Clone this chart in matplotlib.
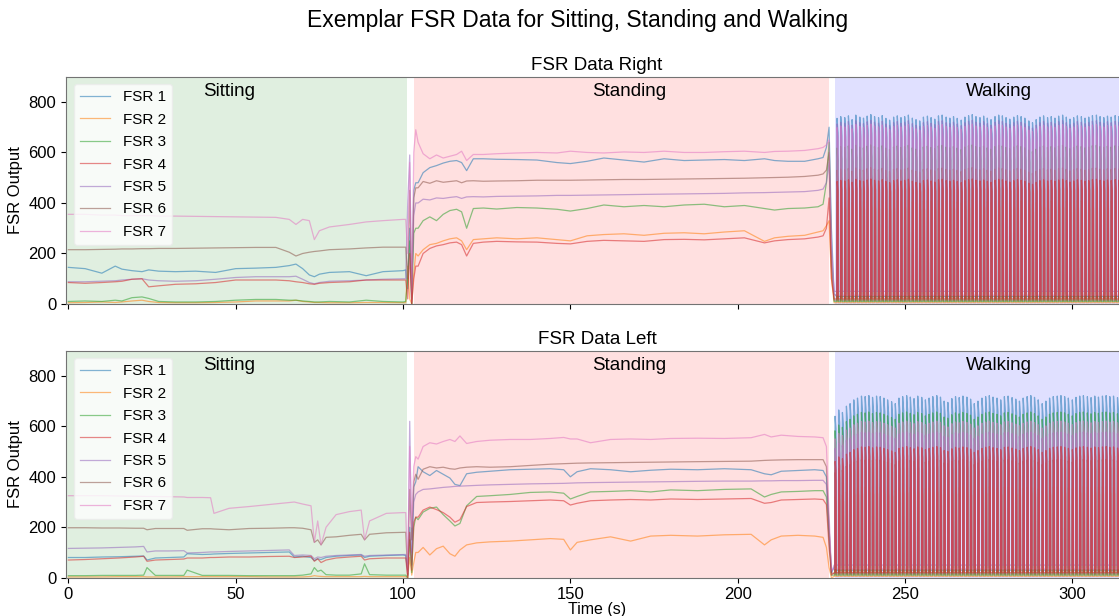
import matplotlib.pyplot as plt

plt.rcParams['font.family'] = ['Liberation Sans', 'DejaVu Sans']

labels = ['FSR 1', 'FSR 2', 'FSR 3', 'FSR 4', 'FSR 5', 'FSR 6', 'FSR 7']

# ---------------- right foot ----------------
t_sit_r = [0, 5, 10, 14, 16, 19, 22, 24, 27, 32, 38, 44, 50, 56, 62, 66, 68, 70, 72, 73.5,
           75, 78, 84, 89, 94, 100]
sit_r = [
    [145, 140, 122, 150, 138, 132, 128, 135, 130, 128, 130, 125, 140, 142, 145, 152, 158, 140, 115, 108, 118, 125, 128, 112, 128, 132],
    [5, 6, 8, 6, 8, 12, 15, 10, 6, 5, 5, 6, 8, 12, 12, 12, 15, 10, 8, 6, 6, 5, 5, 6, 6, 5],
    [10, 12, 10, 15, 12, 25, 28, 22, 10, 8, 8, 10, 15, 18, 18, 15, 15, 12, 10, 8, 8, 10, 8, 15, 10, 8],
    [85, 82, 85, 88, 90, 98, 100, 68, 72, 78, 80, 85, 95, 95, 95, 92, 88, 85, 80, 78, 82, 85, 88, 95, 95, 95],
    [88, 88, 90, 92, 95, 98, 100, 95, 92, 90, 92, 98, 105, 108, 108, 108, 110, 98, 85, 80, 85, 90, 92, 95, 98, 100],
    [215, 215, 216, 217, 218, 218, 219, 219, 220, 220, 221, 222, 223, 224, 224, 205, 190, 200, 205, 208, 210, 215, 218, 222, 225, 225],
    [355, 355, 352, 352, 350, 350, 350, 350, 348, 348, 347, 346, 345, 344, 343, 335, 315, 335, 330, 255, 290, 305, 315, 325, 330, 335],
]
t_tr1 = [100.8, 101.4, 102.0, 102.6, 103.2, 103.8]
tr1_r = [
    [135, 60, 300, 20, 450, 480],
    [5, 150, 20, 0, 120, 200],
    [10, 100, 250, 0, 280, 300],
    [95, 20, 200, 0, 100, 150],
    [100, 400, 590, 50, 350, 400],
    [225, 100, 450, 0, 420, 460],
    [335, 200, 560, 10, 600, 690],
]
t_std_r = [104.5, 106, 108, 110, 112, 114, 116, 117.5, 119, 121, 124, 128, 134, 140, 146, 150,
           155, 160, 166, 172, 178, 184, 190, 196, 202, 208, 211, 215, 220, 224]
std_r = [
    [480, 520, 540, 548, 558, 565, 568, 560, 528, 575, 575, 573, 572, 570, 560, 556, 565, 578, 570, 562, 575, 568, 570, 572, 568, 575, 568, 565, 565, 575],
    [190, 215, 235, 240, 250, 258, 262, 250, 215, 255, 258, 262, 258, 262, 255, 250, 270, 275, 278, 272, 280, 282, 278, 285, 290, 248, 262, 268, 272, 285],
    [300, 330, 345, 330, 355, 370, 375, 365, 300, 378, 380, 376, 382, 380, 375, 368, 378, 392, 385, 390, 385, 392, 395, 385, 390, 378, 372, 378, 380, 385],
    [150, 200, 220, 230, 235, 242, 245, 235, 190, 240, 245, 248, 246, 245, 240, 238, 248, 252, 250, 248, 255, 256, 254, 258, 262, 242, 250, 255, 258, 265],
    [400, 415, 412, 420, 418, 422, 425, 418, 424, 425, 424, 426, 427, 428, 430, 430, 431, 432, 433, 434, 435, 436, 437, 438, 440, 441, 442, 443, 445, 450],
    [460, 485, 478, 488, 482, 485, 488, 480, 487, 488, 486, 487, 488, 490, 490, 490, 491, 492, 493, 493, 494, 495, 496, 497, 498, 500, 501, 502, 505, 510],
    [640, 595, 575, 590, 578, 585, 592, 605, 568, 592, 592, 595, 598, 600, 598, 605, 600, 598, 602, 600, 605, 600, 600, 603, 605, 600, 604, 605, 608, 615],
]
t_tr2 = [225.5, 226.5, 227.3, 228.0, 228.8]
tr2_r = [
    [580, 620, 700, 300, 40],
    [290, 310, 330, 100, 5],
    [395, 480, 640, 200, 10],
    [270, 300, 420, 100, 20],
    [455, 480, 560, 200, 50],
    [515, 530, 600, 150, 15],
    [620, 630, 650, 250, 35],
]
steps_r = [229.6, 230.7, 231.9, 233.0, 234.1, 235.2, 236.4, 237.5, 238.6, 239.7,
           240.8, 242.0, 243.1, 244.2, 245.3, 246.5, 247.6, 248.7, 249.8, 250.9,
           252.1, 253.2, 254.3, 255.4, 256.6, 257.7, 258.8, 259.9, 261.0, 262.2,
           263.3, 264.4, 265.5, 266.7, 267.8, 268.9, 270.0, 271.1, 272.3, 273.4,
           274.5, 275.6, 276.8, 277.9, 279.0, 280.1, 281.2, 282.4, 283.5, 284.6,
           285.7, 286.9, 288.0, 289.1, 290.2, 291.3, 292.5, 293.6, 294.7, 295.8,
           297.0, 298.1, 299.2, 300.3, 301.4, 302.6, 303.7, 304.8, 305.9, 307.1,
           308.2, 309.3, 310.4, 311.5, 312.7, 313.8, 314.9, 316.0]
peaks_r = [735, 742, 738, 745, 730, 748, 740, 736, 744, 750,
           742, 738, 746, 735, 728, 740, 745, 738, 742, 748,
           736, 730, 725, 740, 744, 738, 732, 745, 748, 740,
           736, 742, 735, 728, 740, 746, 750, 742, 738, 744,
           736, 730, 742, 748, 745, 738, 732, 740, 746, 742,
           736, 725, 718, 730, 740, 745, 738, 742, 736, 744,
           748, 740, 732, 738, 745, 742, 736, 740, 746, 748,
           742, 738, 744, 740, 746, 742, 738, 740]
ratio_r = [1.0, 0.55, 0.84, 0.66, 0.97, 0.72, 0.95]

# ---------------- left foot ----------------
t_sit_l = [0, 5, 10, 15, 20, 22.5, 23.5, 26, 30, 34.5, 35.5, 40, 42.5, 43.5, 48, 54, 60, 66,
           67.5, 70, 72.5, 73.5, 74.5, 75.5, 77, 80, 84, 87.5, 88.5, 90, 95, 100]
sit_l = [
    [80, 80, 82, 83, 85, 86, 70, 78, 80, 82, 95, 92, 93, 94, 96, 98, 100, 102, 82, 85, 80, 68, 75, 72, 80, 85, 88, 90, 80, 85, 88, 90],
    [3, 3, 3, 4, 4, 4, 3, 3, 3, 4, 4, 4, 4, 4, 4, 4, 3, 3, 3, 3, 5, 8, 6, 5, 4, 4, 4, 4, 5, 4, 4, 4],
    [8, 8, 9, 9, 9, 10, 40, 9, 9, 9, 30, 9, 9, 9, 9, 8, 8, 8, 8, 10, 15, 40, 25, 30, 12, 10, 10, 15, 55, 12, 10, 10],
    [70, 72, 75, 78, 82, 85, 65, 70, 72, 74, 78, 78, 80, 80, 82, 82, 84, 85, 80, 82, 85, 65, 75, 60, 70, 78, 82, 85, 70, 75, 78, 78],
    [116, 117, 118, 120, 122, 124, 102, 106, 106, 107, 98, 100, 102, 102, 104, 106, 108, 110, 88, 90, 88, 75, 82, 80, 85, 88, 90, 92, 85, 88, 90, 92],
    [198, 198, 197, 197, 196, 196, 190, 195, 195, 195, 188, 194, 194, 193, 190, 195, 196, 198, 198, 196, 190, 140, 150, 130, 160, 162, 168, 172, 150, 172, 178, 180],
    [325, 325, 325, 324, 323, 322, 322, 322, 321, 320, 318, 318, 317, 255, 275, 282, 290, 298, 300, 292, 285, 140, 225, 130, 200, 250, 262, 268, 150, 225, 255, 258],
]
tr1_l = [
    [88, 30, 200, 50, 360, 380],
    [4, 0, 80, 10, 60, 100],
    [10, 0, 150, 20, 200, 240],
    [78, 0, 180, 30, 220, 240],
    [92, 10, 620, 100, 300, 330],
    [180, 10, 350, 150, 380, 410],
    [258, 20, 520, 200, 440, 480],
]
t_std_l = [104.5, 106, 108, 110, 112, 114, 115.5, 117, 119, 122, 126, 132, 138, 144, 148, 150,
           152, 156, 162, 168, 174, 180, 188, 196, 204, 208, 210, 213, 218, 223]
std_l = [
    [440, 420, 405, 425, 410, 395, 370, 365, 412, 418, 422, 428, 430, 432, 428, 400, 420, 432, 428, 420, 426, 430, 428, 432, 428, 412, 408, 422, 425, 428],
    [100, 120, 90, 115, 125, 95, 85, 110, 130, 138, 142, 145, 150, 155, 152, 110, 140, 150, 162, 145, 165, 168, 165, 170, 172, 130, 150, 165, 168, 165],
    [230, 260, 275, 280, 250, 225, 205, 215, 285, 322, 325, 330, 338, 340, 335, 312, 322, 340, 342, 345, 340, 348, 345, 350, 352, 320, 330, 340, 342, 345],
    [240, 268, 280, 270, 258, 240, 220, 230, 282, 298, 300, 302, 305, 308, 305, 288, 295, 305, 308, 310, 308, 312, 310, 312, 314, 295, 298, 308, 310, 312],
    [340, 350, 352, 355, 358, 360, 362, 363, 364, 366, 368, 370, 372, 373, 374, 375, 376, 377, 378, 379, 380, 381, 382, 383, 383, 384, 384, 385, 385, 386],
    [390, 430, 440, 435, 438, 432, 430, 435, 438, 440, 438, 440, 445, 450, 452, 453, 454, 455, 456, 457, 458, 459, 460, 461, 462, 465, 466, 467, 468, 468],
    [470, 520, 535, 530, 540, 548, 540, 562, 532, 540, 545, 548, 548, 552, 556, 550, 550, 535, 548, 550, 548, 552, 553, 552, 555, 568, 558, 565, 560, 558],
]
tr2_l = [
    [425, 400, 200, 20, 40],
    [160, 120, 40, 0, 5],
    [345, 320, 150, 10, 10],
    [310, 290, 120, 10, 20],
    [386, 370, 180, 20, 50],
    [468, 440, 200, 20, 15],
    [555, 520, 250, 30, 35],
]
steps_l = [229.0, 230.1, 231.2, 232.4, 233.5, 234.6, 235.7, 236.9, 238.0, 239.1,
           240.2, 241.4, 242.5, 243.6, 244.7, 245.9, 247.0, 248.1, 249.2, 250.4,
           251.5, 252.6, 253.7, 254.9, 256.0, 257.1, 258.2, 259.4, 260.5, 261.6,
           262.7, 263.9, 265.0, 266.1, 267.2, 268.4, 269.5, 270.6, 271.7, 272.9,
           274.0, 275.1, 276.2, 277.4, 278.5, 279.6, 280.7, 281.9, 283.0, 284.1,
           285.2, 286.4, 287.5, 288.6, 289.7, 290.9, 292.0, 293.1, 294.2, 295.4,
           296.5, 297.6, 298.7, 299.9, 301.0, 302.1, 303.2, 304.4, 305.5, 306.6,
           307.7, 308.9, 310.0, 311.1, 312.2, 313.4, 314.5, 315.6]
peaks_l = [640, 665, 655, 680, 690, 705, 712, 720, 718, 722,
           715, 720, 718, 712, 705, 698, 690, 712, 718, 722,
           716, 710, 720, 715, 705, 712, 718, 722, 716, 700,
           695, 710, 718, 714, 720, 716, 708, 690, 700, 712,
           718, 722, 716, 712, 705, 718, 720, 714, 708, 700,
           712, 718, 722, 715, 705, 690, 700, 712, 718, 720,
           722, 718, 712, 705, 715, 720, 722, 718, 714, 720,
           716, 720, 722, 718, 720, 714, 718, 720]
ratio_l = [1.0, 0.5, 0.91, 0.72, 0.8, 0.65, 0.86]

# gait cycle per sensor: baseline level and where in the step the load starts
trough = [30, 5, 10, 20, 50, 15, 35]
onset = [0.02, 0.04, 0.0, 0.03, 0.01, 0.0, 0.02]
step_shape = [0.0, 0.05, 0.3, 0.36]
step_load = [0.0, 1.0, 0.92, 0.0]
# red sensor sits on top of the others in the walking block
line_z = [2, 2, 2, 2.6, 2, 2, 2.4]


def walking(steps, peaks, ratio, base, start):
    """Build the loaded/unloaded pattern of one sensor for every step"""
    t, v = [], []
    for k, t0 in enumerate(steps):
        if k + 1 < len(steps):
            p = steps[k + 1] - t0
        else:
            p = t0 - steps[k - 1]
        top = peaks[k] * ratio
        for f, w in zip(step_shape, step_load):
            t.append(t0 + (start + f) * p)
            v.append(base + w * (top - base))
    return t, v


def draw_side(ax, t_sit, sit, tr1, t_std, std, tr2, steps, peaks, ratio):
    ax.axvspan(-5, 101.3, color='g', alpha=0.12, lw=0)
    ax.axvspan(103.3, 227.3, color='r', alpha=0.12, lw=0)
    ax.axvspan(229.1, 320, color='b', alpha=0.12, lw=0)
    for i in range(7):
        wt, wv = walking(steps, peaks, ratio[i], trough[i], onset[i])
        x = t_sit + t_tr1 + t_std + t_tr2 + wt
        y = sit[i] + tr1[i] + std[i] + tr2[i] + wv
        ax.plot(x, y, color='C%d' % i, lw=0.9, alpha=0.55, label=labels[i], zorder=line_z[i])
    ax.text(48, 840, 'Sitting', fontsize=13.5, ha='center', va='center')
    ax.text(167.5, 840, 'Standing', fontsize=13.5, ha='center', va='center')
    ax.text(278, 840, 'Walking', fontsize=13.5, ha='center', va='center')
    ax.set_ylim(0, 900)
    ax.set_xlim(-0.7, 316.6)
    ax.set_yticks([0, 200, 400, 600, 800])
    ax.set_ylabel('FSR Output', fontsize=12)
    ax.tick_params(labelsize=12)
    for s in ax.spines.values():
        s.set_color('0.45')
    leg = ax.legend(loc='upper left', fontsize=11, labelspacing=0.55)
    leg.get_frame().set_edgecolor('0.92')
    leg.set_zorder(5)


fig = plt.figure(figsize=(11.19, 6.16), dpi=100)
ax1 = fig.add_axes([0.059, 0.5065, 0.949, 0.369])
ax2 = fig.add_axes([0.059, 0.0622, 0.949, 0.3685], sharex=ax1)

draw_side(ax1, t_sit_r, sit_r, tr1_r, t_std_r, std_r, tr2_r, steps_r, peaks_r, ratio_r)
draw_side(ax2, t_sit_l, sit_l, tr1_l, t_std_l, std_l, tr2_l, steps_l, peaks_l, ratio_l)

ax1.set_title('FSR Data Right', fontsize=13.5, pad=5)
ax2.set_title('FSR Data Left', fontsize=13.5, pad=5)
ax1.tick_params(labelbottom=False)
ax2.set_xticks([0, 50, 100, 150, 200, 250, 300])
ax2.set_xlabel('Time (s)', fontsize=11.5, labelpad=0)

fig.suptitle('Exemplar FSR Data for Sitting, Standing and Walking', fontsize=16.5, x=0.516, y=0.985)

fig.savefig('out.png', dpi=100)
